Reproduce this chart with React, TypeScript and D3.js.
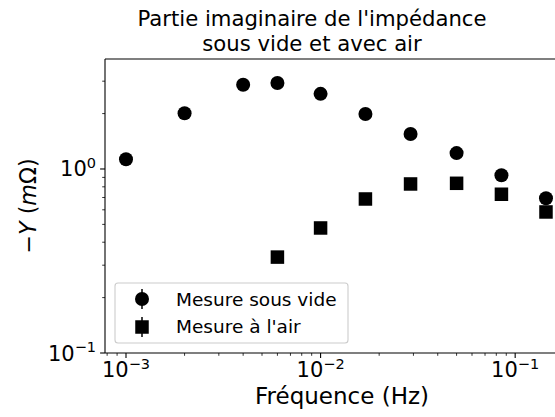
import React from "react";
import * as d3 from "d3";

const freqVide = [0.001, 0.002, 0.004, 0.006, 0.01, 0.017, 0.029, 0.05, 0.085, 0.144];
const valVide = [1.13, 2.01, 2.87, 2.93, 2.56, 1.99, 1.55, 1.22, 0.924, 0.693];
const freqAir = [0.006, 0.01, 0.017, 0.029, 0.05, 0.085, 0.144];
const valAir = [0.332, 0.478, 0.687, 0.829, 0.836, 0.729, 0.584];
const xMajorTicks = [0.001, 0.01, 0.1];
const xMajorLabels = ["−3", "−2", "−1"];
const yMajorTicks = [0.1, 1];
const yMajorLabels = ["−1", "0"];
const titleLines = ["Partie imaginaire de l'impédance", "sous vide et avec air"];
const xLabel = "Fréquence (Hz)";
const legendLabels = ["Mesure sous vide", "Mesure à l'air"];

const W = 555;
const H = 417;
const left = 105;
const right = 561;
const top = 59;
const bottom = 353;
const FONT = "DejaVu Sans";

export default function App() {
  const x = d3.scaleLog().domain([7.8e-4, 0.172]).range([left, right]);
  const y = d3.scaleLog().domain([0.1, 3.96]).range([bottom, top]);

  const xMinor: number[] = [];
  for (let e = -4; e <= -1; e++) {
    for (let m = 2; m <= 9; m++) {
      const v = m * Math.pow(10, e);
      if (v > x.domain()[0] && v < x.domain()[1]) xMinor.push(v);
    }
  }
  const yMinor: number[] = [];
  for (let e = -1; e <= 0; e++) {
    for (let m = 2; m <= 9; m++) {
      const v = m * Math.pow(10, e);
      if (v > y.domain()[0] && v < y.domain()[1]) yMinor.push(v);
    }
  }

  const sq = 13.5;
  const r = 7;
  const tickFs = 21;
  const supFs = 14.5;

  return (
    <svg width={W} height={H} style={{ display: "block", position: "absolute", left: 0, top: 0 }} fontFamily={FONT}>
      <rect x={0} y={0} width={W} height={H} fill="#fff" />
      {/* title */}
      <text x={312} y={26} fontSize={21.2} textAnchor="middle" fill="#000">{titleLines[0]}</text>
      <text x={312} y={51} fontSize={21.2} textAnchor="middle" fill="#000">{titleLines[1]}</text>

      {/* data */}
      {freqVide.map((f, i) => (
        <circle key={"c" + i} cx={x(f)} cy={y(valVide[i])} r={r} fill="#000" />
      ))}
      {freqAir.map((f, i) => (
        <rect key={"s" + i} x={x(f) - sq / 2} y={y(valAir[i]) - sq / 2} width={sq} height={sq} fill="#000" />
      ))}

      {/* spines */}
      <line x1={left} x2={left} y1={top} y2={bottom} stroke="#000" strokeWidth={1.1} />
      <line x1={left} x2={right} y1={bottom} y2={bottom} stroke="#000" strokeWidth={1.1} />
      <line x1={left} x2={right} y1={top} y2={top} stroke="#000" strokeWidth={1.1} />

      {/* x ticks */}
      {xMajorTicks.map((t, i) => (
        <g key={"xt" + i}>
          <line x1={x(t)} x2={x(t)} y1={bottom} y2={bottom + 4.9} stroke="#000" strokeWidth={1.1} />
          <text x={x(t)} y={bottom + 24} fontSize={tickFs} textAnchor="middle" fill="#000">
            10<tspan fontSize={supFs} dy={-8.5}>{xMajorLabels[i]}</tspan>
          </text>
        </g>
      ))}
      {xMinor.map((t, i) => (
        <line key={"xm" + i} x1={x(t)} x2={x(t)} y1={bottom} y2={bottom + 2.8} stroke="#000" strokeWidth={0.8} />
      ))}

      {/* y ticks */}
      {yMajorTicks.map((t, i) => (
        <g key={"yt" + i}>
          <line x1={left - 4.9} x2={left} y1={y(t)} y2={y(t)} stroke="#000" strokeWidth={1.1} />
          <text x={left - 9} y={y(t) + 7.5} fontSize={tickFs} textAnchor="end" fill="#000">
            10<tspan fontSize={supFs} dy={-8.5}>{yMajorLabels[i]}</tspan>
          </text>
        </g>
      ))}
      {yMinor.map((t, i) => (
        <line key={"ym" + i} x1={left - 2.8} x2={left} y1={y(t)} y2={y(t)} stroke="#000" strokeWidth={0.8} />
      ))}

      {/* axis labels */}
      <text x={342} y={404} fontSize={23} textAnchor="middle" fill="#000">{xLabel}</text>
      <text transform={`translate(36, ${(top + bottom) / 2}) rotate(-90)`} fontSize={22.2} textAnchor="middle" fill="#000">
        −<tspan fontStyle="italic">Y</tspan> (<tspan fontStyle="italic">m</tspan>Ω)
      </text>

      {/* legend */}
      <rect x={115} y={283} width={233} height={60} rx={3} ry={3} fill="#fff" fillOpacity={0.8} stroke="#cccccc" strokeWidth={1.1} />
      <line x1={142} x2={142} y1={289} y2={309} stroke="#000" strokeWidth={1.5} />
      <circle cx={142} cy={299} r={r} fill="#000" />
      <line x1={142} x2={142} y1={317} y2={337} stroke="#000" strokeWidth={1.5} />
      <rect x={142 - sq / 2} y={327 - sq / 2} width={sq} height={sq} fill="#000" />
      <text x={176} y={305.5} fontSize={18.5} fill="#000">{legendLabels[0]}</text>
      <text x={176} y={333} fontSize={18.5} fill="#000">{legendLabels[1]}</text>
    </svg>
  );
}
